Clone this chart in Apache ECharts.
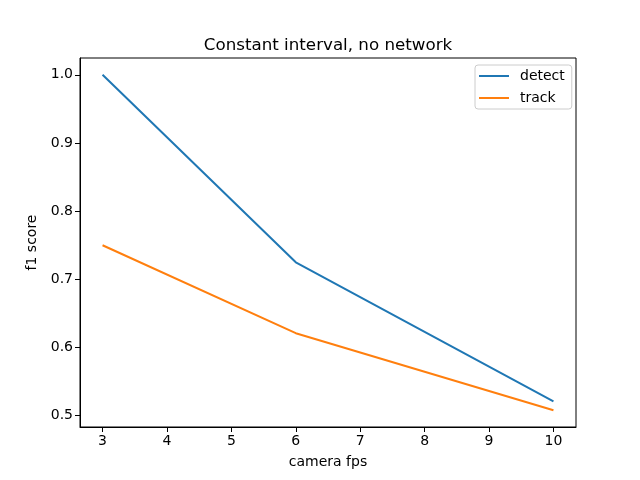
<!DOCTYPE html>
<html>
<head>
<meta charset="utf-8">
<script src="https://cdn.jsdelivr.net/npm/echarts@6/dist/echarts.min.js"></script>
<style>
  html, body { margin: 0; padding: 0; background: #fff; }
  #chart { width: 640px; height: 480px; }
</style>
</head>
<body>
<div id="chart"></div>
<script>
// data
const fps = [3, 6, 10]
const detect = [1.0, 0.725, 0.521]
const track = [0.75, 0.621, 0.508]
const xTicks = [3, 4, 5, 6, 7, 8, 9, 10]
const yTicks = [0.5, 0.6, 0.7, 0.8, 0.9, 1.0]

const font = 'DejaVu Sans'

// pair up x and y for a value axis
function toPoints(xs, ys) {
    let out = []
    for (let i = 0; i < xs.length; i++) {
        out.push([xs[i], ys[i]])
    }
    return out
}

let chart = echarts.init(document.getElementById('chart'))
chart.setOption({
    animation: false,
    backgroundColor: '#fff',
    title: {
        text: 'Constant interval, no network',
        left: 323,
        top: 32,
        textAlign: 'center',
        textStyle: { fontFamily: font, fontSize: 16.7, fontWeight: 'normal', color: '#000' }
    },
    legend: {
        orient: 'vertical',
        left: 475,
        top: 65,
        data: ['detect', 'track'],
        icon: 'rect',
        itemWidth: 30,
        itemHeight: 2,
        itemGap: 6,
        padding: [3, 7, 3, 4],
        borderColor: '#ccc',
        borderWidth: 1,
        borderRadius: 3,
        textStyle: { fontFamily: font, fontSize: 14, color: '#000', padding: [0, 0, 0, 6], lineHeight: 16 }
    },
    grid: {
        left: 80, right: 64, top: 58, bottom: 53,
        show: true,
        borderColor: '#000',
        borderWidth: 1,
        backgroundColor: '#fff'
    },
    xAxis: {
        type: 'value',
        min: 2.65,
        max: 10.35,
        name: 'camera fps',
        nameLocation: 'middle',
        nameGap: 28,
        nameTextStyle: { fontFamily: font, fontSize: 14, color: '#000' },
        axisLine: { lineStyle: { color: '#000' } },
        axisTick: { inside: false, length: 5, lineStyle: { color: '#000' }, customValues: xTicks },
        axisLabel: { fontFamily: font, fontSize: 14, color: '#000', margin: 7, customValues: xTicks },
        splitLine: { show: false }
    },
    yAxis: {
        type: 'value',
        min: 0.4834,
        max: 1.0246,
        name: 'f1 score',
        nameLocation: 'middle',
        nameGap: 39,
        nameTextStyle: { fontFamily: font, fontSize: 14, color: '#000' },
        axisLine: { show: true, lineStyle: { color: '#000' } },
        axisTick: { show: true, inside: false, length: 5, lineStyle: { color: '#000' }, customValues: yTicks },
        axisLabel: {
            fontFamily: font, fontSize: 14, color: '#000', margin: 7,
            customValues: yTicks,
            formatter: v => v.toFixed(1)
        },
        splitLine: { show: false }
    },
    series: [
        {
            name: 'detect',
            type: 'line',
            data: toPoints(fps, detect),
            symbol: 'none',
            color: '#1f77b4',
            lineStyle: { width: 2, color: '#1f77b4' }
        },
        {
            name: 'track',
            type: 'line',
            data: toPoints(fps, track),
            symbol: 'none',
            color: '#ff7f0e',
            lineStyle: { width: 2, color: '#ff7f0e' }
        }
    ]
})
</script>
</body>
</html>
